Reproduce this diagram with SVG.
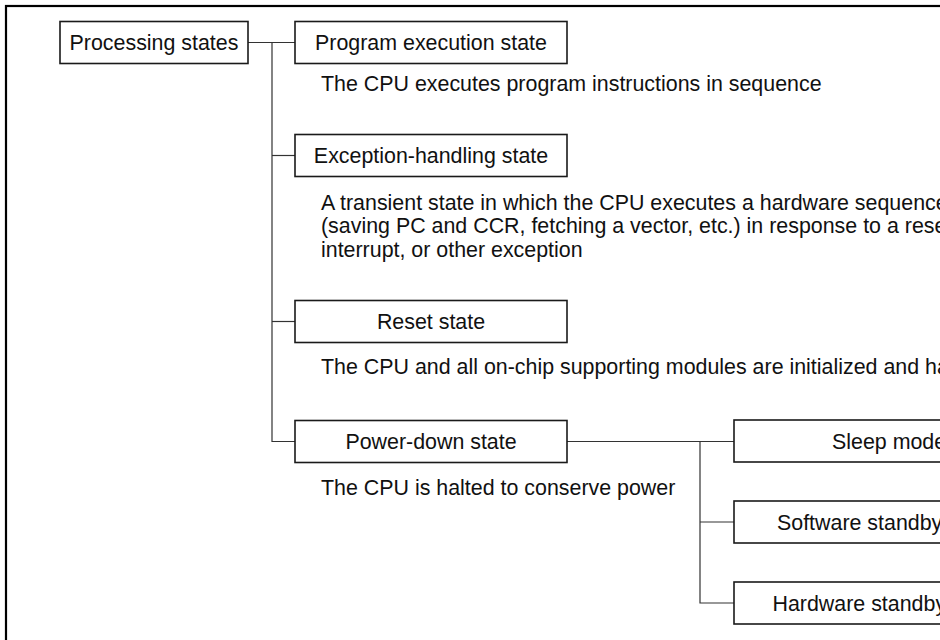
<svg xmlns="http://www.w3.org/2000/svg" width="940" height="640" viewBox="0 0 940 640">
  <style>
    .frame { fill: none; stroke: #000; stroke-width: 2.2; }
    .box { fill: #fff; stroke: #1a1a1a; stroke-width: 1.6; }
    .wire { fill: none; stroke: #333; stroke-width: 1.2; }
    .lbl { font-family: "Liberation Sans", Arial, sans-serif; font-size: 21.4px; fill: #111; }
    .mid { text-anchor: middle; }
  </style>
  <rect width="940" height="640" fill="#fff"/>
  <!-- outer frame (continues past the right and bottom edges) -->
  <rect class="frame" x="6" y="6" width="1000" height="700"/>

  <g id="connectors">
    <path class="wire" d="M248 42.5 H295"/>
    <path class="wire" d="M272 42.5 V441.5 H295"/>
    <path class="wire" d="M272 155.5 H295"/>
    <path class="wire" d="M272 321.5 H295"/>
    <path class="wire" d="M567 441.5 H734"/>
    <path class="wire" d="M700 441.5 V603 H734"/>
    <path class="wire" d="M700 522 H734"/>
  </g>

  <g id="processing-states">
    <rect class="box" x="60" y="21.5" width="188" height="42"/>
    <text class="lbl mid" x="154" y="50">Processing states</text>
  </g>

  <g id="program-execution">
    <rect class="box" x="295" y="21.5" width="272" height="42"/>
    <text class="lbl mid" x="431" y="50">Program execution state</text>
    <text class="lbl" x="321" y="91">The CPU executes program instructions in sequence</text>
  </g>

  <g id="exception-handling">
    <rect class="box" x="295" y="134.5" width="272" height="42"/>
    <text class="lbl mid" x="431" y="163">Exception-handling state</text>
    <text class="lbl" x="321" y="209.5">A transient state in which the CPU executes a hardware sequence</text>
    <text class="lbl" x="321" y="233">(saving PC and CCR, fetching a vector, etc.) in response to a reset,</text>
    <text class="lbl" x="321" y="256.7">interrupt, or other exception</text>
  </g>

  <g id="reset">
    <rect class="box" x="295" y="300.5" width="272" height="42"/>
    <text class="lbl mid" x="431" y="329">Reset state</text>
    <text class="lbl" x="321" y="374">The CPU and all on-chip supporting modules are initialized and halted</text>
  </g>

  <g id="power-down">
    <rect class="box" x="295" y="420.5" width="272" height="42"/>
    <text class="lbl mid" x="431" y="449">Power-down state</text>
    <text class="lbl" x="321" y="494.5">The CPU is halted to conserve power</text>
  </g>

  <g id="sleep-mode">
    <rect class="box" x="734" y="420" width="320" height="42"/>
    <text class="lbl" x="832" y="448.5">Sleep mode</text>
  </g>

  <g id="software-standby">
    <rect class="box" x="734" y="501" width="320" height="42"/>
    <text class="lbl" x="777" y="529.5">Software standby</text>
  </g>

  <g id="hardware-standby">
    <rect class="box" x="734" y="582" width="320" height="42"/>
    <text class="lbl" x="772.5" y="610.5">Hardware standby</text>
  </g>
</svg>
